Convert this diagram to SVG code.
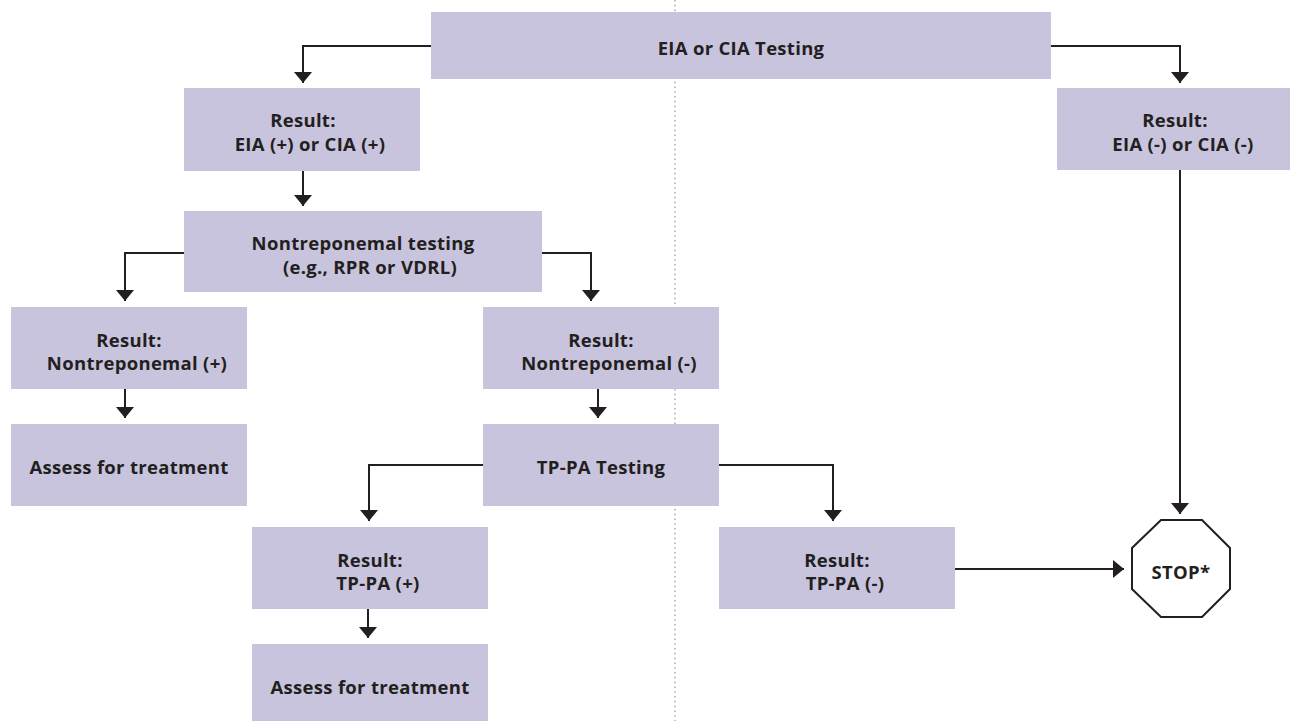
<svg xmlns="http://www.w3.org/2000/svg" width="1290" height="721" viewBox="0 0 1290 721">
<style>
.box{fill:#c9c4de;}
.t{font-family:"Open Sans","Liberation Sans",sans-serif;font-weight:700;font-size:18.5px;letter-spacing:0.3px;fill:#231f20;text-anchor:middle;}
.c{fill:none;stroke:#231f20;stroke-width:2;}
.div{stroke:#b5b5b5;stroke-width:1.6;stroke-dasharray:1.6 3.2;}
</style>
<defs>
<marker id="ah" markerUnits="userSpaceOnUse" markerWidth="12" markerHeight="18" refX="11" refY="9" orient="auto" viewBox="0 0 12 18">
<path d="M0,0 L11,9 L0,18 z" fill="#231f20"/>
</marker>
</defs>
<rect width="1290" height="721" fill="#ffffff"/>
<line class="div" x1="675" y1="0" x2="675" y2="721"/>
<g id="connectors">
<path class="c" d="M431,46 H303 V83" marker-end="url(#ah)"/>
<path class="c" d="M1051,46 H1180 V83" marker-end="url(#ah)"/>
<path class="c" d="M303,171 V206" marker-end="url(#ah)"/>
<path class="c" d="M184,253 H125 V301" marker-end="url(#ah)"/>
<path class="c" d="M542,253 H591 V301" marker-end="url(#ah)"/>
<path class="c" d="M125,389 V418" marker-end="url(#ah)"/>
<path class="c" d="M598,389 V418" marker-end="url(#ah)"/>
<path class="c" d="M483,465 H369 V521" marker-end="url(#ah)"/>
<path class="c" d="M719,465 H833 V521" marker-end="url(#ah)"/>
<path class="c" d="M368,609 V638" marker-end="url(#ah)"/>
<path class="c" d="M1180,170 V514" marker-end="url(#ah)"/>
<path class="c" d="M955,569 H1124" marker-end="url(#ah)"/>
</g>
<g id="eia-testing">
<rect class="box" x="431" y="12" width="620" height="67"/>
<text class="t" x="741" y="55">EIA or CIA Testing</text>
</g>
<g id="eia-pos">
<rect class="box" x="184" y="88" width="236" height="83"/>
<text class="t" x="303" y="127">Result:</text>
<text class="t" x="310" y="151">EIA (+) or CIA (+)</text>
</g>
<g id="eia-neg">
<rect class="box" x="1057" y="88" width="236" height="82"/>
<text class="t" x="1175" y="127">Result:</text>
<text class="t" x="1183" y="151">EIA (-) or CIA (-)</text>
</g>
<g id="nontrep-testing">
<rect class="box" x="184" y="211" width="358" height="81"/>
<text class="t" x="363" y="250">Nontreponemal testing</text>
<text class="t" x="370" y="274">(e.g., RPR or VDRL)</text>
</g>
<g id="nontrep-pos">
<rect class="box" x="11" y="307" width="236" height="82"/>
<text class="t" x="129" y="347">Result:</text>
<text class="t" x="137" y="370">Nontreponemal (+)</text>
</g>
<g id="nontrep-neg">
<rect class="box" x="483" y="307" width="236" height="82"/>
<text class="t" x="601" y="347">Result:</text>
<text class="t" x="609" y="370">Nontreponemal (-)</text>
</g>
<g id="assess-1">
<rect class="box" x="11" y="424" width="236" height="82"/>
<text class="t" x="129" y="474">Assess for treatment</text>
</g>
<g id="tppa-testing">
<rect class="box" x="483" y="424" width="236" height="82"/>
<text class="t" x="601" y="474">TP-PA Testing</text>
</g>
<g id="tppa-pos">
<rect class="box" x="252" y="527" width="236" height="82"/>
<text class="t" x="370" y="567">Result:</text>
<text class="t" x="378" y="590">TP-PA (+)</text>
</g>
<g id="tppa-neg">
<rect class="box" x="719" y="527" width="236" height="82"/>
<text class="t" x="837" y="567">Result:</text>
<text class="t" x="845" y="590">TP-PA (-)</text>
</g>
<g id="assess-2">
<rect class="box" x="252" y="644" width="236" height="77"/>
<text class="t" x="370" y="694">Assess for treatment</text>
</g>
<g id="stop">
<polygon points="1161,520 1202,520 1230,548 1230,589 1202,617 1161,617 1132,589 1132,548" fill="#ffffff" stroke="#231f20" stroke-width="2"/>
<text class="t" x="1181" y="579">STOP*</text>
</g>
</svg>
